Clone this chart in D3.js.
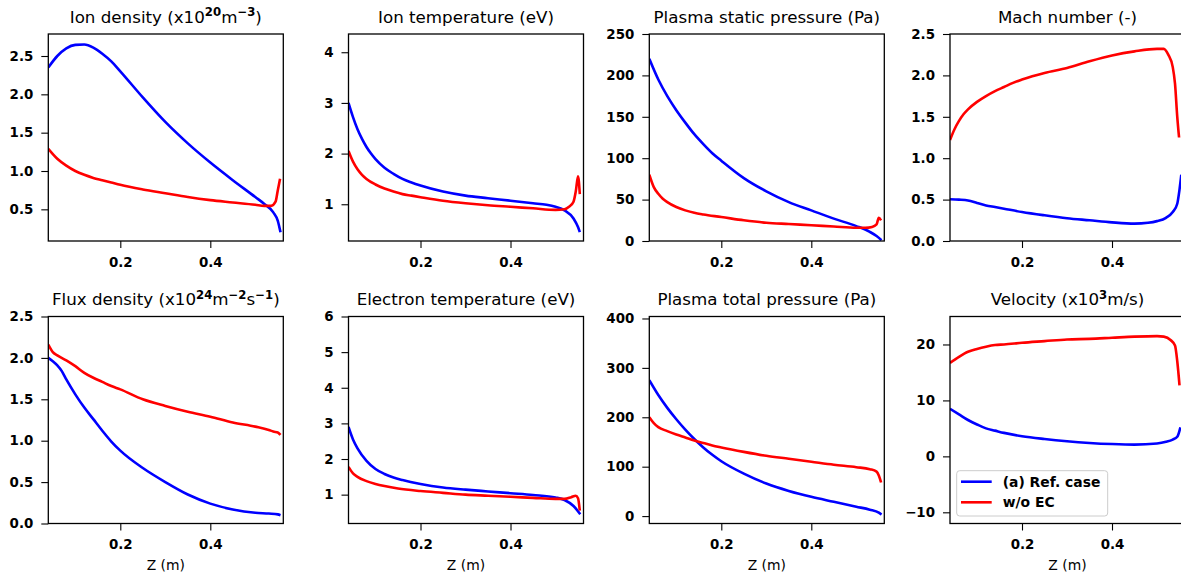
<!DOCTYPE html>
<html>
<head>
<meta charset="utf-8">
<script src="https://cdn.jsdelivr.net/npm/d3@7"></script>
<style>
  body { margin: 0; background: #fff; }
  svg text { font-family: "DejaVu Sans", sans-serif; fill: #000; }
</style>
</head>
<body>
<svg id="chart" width="1181" height="575"></svg>
<script>
// series: [z (m), value]
var ionDensityRef = [[0.04,2.35],[0.06,2.50],[0.08,2.60],[0.10,2.645],[0.12,2.65],[0.14,2.61],[0.16,2.53],[0.18,2.43],[0.20,2.30],[0.25,1.96],[0.30,1.64],[0.35,1.36],[0.40,1.11],[0.45,0.88],[0.50,0.66],[0.52,0.57],[0.54,0.46],[0.55,0.35],[0.556,0.20]];
var ionDensityNoEc = [[0.04,1.29],[0.06,1.16],[0.08,1.07],[0.10,1.00],[0.12,0.95],[0.14,0.91],[0.16,0.88],[0.18,0.85],[0.20,0.82],[0.25,0.76],[0.30,0.71],[0.35,0.66],[0.40,0.62],[0.45,0.59],[0.50,0.56],[0.52,0.545],[0.535,0.545],[0.545,0.60],[0.55,0.75],[0.555,0.90]];

var ionTempRef = [[0.04,3.0],[0.05,2.72],[0.06,2.48],[0.07,2.29],[0.08,2.13],[0.09,2.0],[0.10,1.89],[0.12,1.72],[0.14,1.60],[0.16,1.50],[0.18,1.43],[0.20,1.37],[0.25,1.25],[0.30,1.17],[0.35,1.12],[0.40,1.07],[0.45,1.02],[0.48,0.99],[0.50,0.95],[0.52,0.88],[0.54,0.72],[0.55,0.55],[0.554,0.45]];
var ionTempNoEc = [[0.04,2.05],[0.05,1.84],[0.06,1.69],[0.07,1.58],[0.08,1.50],[0.10,1.39],[0.12,1.31],[0.14,1.25],[0.16,1.20],[0.18,1.17],[0.20,1.14],[0.25,1.07],[0.30,1.02],[0.35,0.98],[0.40,0.95],[0.45,0.92],[0.50,0.89],[0.52,0.90],[0.53,0.95],[0.54,1.05],[0.545,1.25],[0.55,1.55],[0.554,1.2]];

var staticPressRef = [[0.04,220],[0.06,195],[0.08,175],[0.10,158],[0.12,143],[0.14,129],[0.16,117],[0.18,106],[0.20,97],[0.25,76],[0.30,60],[0.35,47],[0.40,37],[0.45,27],[0.50,18],[0.53,11],[0.545,6],[0.556,1]];
var staticPressNoEc = [[0.04,80],[0.05,65],[0.06,57],[0.07,51],[0.08,47],[0.10,41],[0.12,37],[0.14,34],[0.16,32],[0.20,29],[0.25,25],[0.30,22],[0.35,20.5],[0.40,19],[0.45,17.5],[0.50,16],[0.52,16],[0.535,17],[0.545,20],[0.55,28],[0.555,25]];

var machRef = [[0.04,0.505],[0.06,0.50],[0.08,0.49],[0.10,0.46],[0.12,0.43],[0.14,0.41],[0.16,0.39],[0.20,0.35],[0.25,0.31],[0.30,0.275],[0.35,0.25],[0.40,0.225],[0.45,0.21],[0.48,0.22],[0.50,0.24],[0.52,0.28],[0.535,0.35],[0.545,0.45],[0.55,0.62],[0.554,0.80]];
var machNoEc = [[0.04,1.22],[0.05,1.35],[0.06,1.45],[0.07,1.53],[0.08,1.59],[0.10,1.68],[0.12,1.75],[0.14,1.81],[0.16,1.86],[0.18,1.91],[0.20,1.95],[0.25,2.03],[0.30,2.09],[0.35,2.17],[0.40,2.24],[0.45,2.29],[0.50,2.32],[0.515,2.32],[0.525,2.25],[0.535,2.10],[0.54,1.90],[0.545,1.50],[0.549,1.25]];

var fluxRef = [[0.04,2.0],[0.05,1.96],[0.06,1.91],[0.07,1.84],[0.08,1.74],[0.10,1.56],[0.12,1.40],[0.14,1.26],[0.16,1.12],[0.18,0.99],[0.20,0.88],[0.25,0.67],[0.30,0.50],[0.35,0.35],[0.40,0.24],[0.45,0.17],[0.50,0.13],[0.53,0.12],[0.55,0.11],[0.556,0.10]];
var fluxNoEc = [[0.04,2.16],[0.05,2.07],[0.06,2.03],[0.08,1.97],[0.10,1.90],[0.12,1.82],[0.14,1.76],[0.16,1.71],[0.18,1.66],[0.20,1.62],[0.25,1.50],[0.30,1.42],[0.35,1.35],[0.40,1.29],[0.45,1.22],[0.50,1.17],[0.53,1.13],[0.54,1.11],[0.55,1.10],[0.556,1.07]];

var elecTempRef = [[0.04,2.9],[0.05,2.55],[0.06,2.3],[0.08,1.95],[0.10,1.72],[0.12,1.58],[0.14,1.48],[0.16,1.41],[0.20,1.30],[0.25,1.20],[0.30,1.14],[0.35,1.09],[0.40,1.04],[0.45,0.99],[0.50,0.92],[0.52,0.85],[0.54,0.68],[0.555,0.45]];
var elecTempNoEc = [[0.04,1.78],[0.05,1.60],[0.06,1.50],[0.08,1.38],[0.10,1.30],[0.12,1.24],[0.15,1.17],[0.20,1.10],[0.25,1.05],[0.30,1.00],[0.35,0.97],[0.40,0.94],[0.45,0.91],[0.50,0.88],[0.52,0.88],[0.535,0.93],[0.545,0.97],[0.55,0.90],[0.554,0.55]];

var totalPressRef = [[0.04,275],[0.06,245],[0.08,219],[0.10,196],[0.12,175],[0.14,156],[0.16,139],[0.18,124],[0.20,111],[0.25,86],[0.30,66],[0.35,51],[0.40,39],[0.45,29],[0.50,19],[0.53,13],[0.55,7],[0.556,3]];
var totalPressNoEc = [[0.04,200],[0.05,188],[0.06,180],[0.08,172],[0.10,165],[0.12,159],[0.14,153],[0.16,148],[0.18,143],[0.20,139],[0.25,130],[0.30,122],[0.35,116],[0.40,110],[0.45,104],[0.50,99],[0.53,95],[0.545,90],[0.55,82],[0.555,68]];

var velocityRef = [[0.04,8.5],[0.06,7.5],[0.08,6.5],[0.10,5.7],[0.12,5.0],[0.14,4.6],[0.16,4.2],[0.20,3.6],[0.25,3.1],[0.30,2.7],[0.35,2.4],[0.40,2.2],[0.45,2.1],[0.50,2.3],[0.52,2.6],[0.535,3.0],[0.545,3.5],[0.552,5.2]];
var velocityNoEc = [[0.04,16.7],[0.06,17.8],[0.08,18.7],[0.10,19.2],[0.12,19.6],[0.14,19.9],[0.16,20.0],[0.20,20.3],[0.25,20.6],[0.30,20.9],[0.35,21.0],[0.40,21.2],[0.45,21.4],[0.50,21.5],[0.515,21.4],[0.53,20.8],[0.54,19.8],[0.545,17.0],[0.55,12.7]];

var zTicks = [0.2, 0.4];
var seriesLabels = ["(a) Ref. case", "w/o EC"];
var seriesColors = ["#0000ff", "#ff0000"];

// title pieces: plain text or superscript
var panels = [
  {title: [["Ion density (x10"], ["20", 1], ["m"], ["\u22123", 1], [")"]], data: [ionDensityRef, ionDensityNoEc], y: [0.087, 2.787], ticks: [0.5, 1.0, 1.5, 2.0, 2.5], fmt: ".1f"},
  {title: [["Ion temperature (eV)"]], data: [ionTempRef, ionTempNoEc], y: [0.275, 4.36], ticks: [1, 2, 3, 4], fmt: "d"},
  {title: [["Plasma static pressure (Pa)"]], data: [staticPressRef, staticPressNoEc], y: [0, 250], ticks: [0, 50, 100, 150, 200, 250], fmt: "d"},
  {title: [["Mach number (-)"]], data: [machRef, machNoEc], y: [0, 2.5], ticks: [0, 0.5, 1.0, 1.5, 2.0, 2.5], fmt: ".1f"},
  {title: [["Flux density (x10"], ["24", 1], ["m"], ["\u22122", 1], ["s"], ["\u22121", 1], [")"]], data: [fluxRef, fluxNoEc], y: [0, 2.5], ticks: [0, 0.5, 1.0, 1.5, 2.0, 2.5], fmt: ".1f"},
  {title: [["Electron temperature (eV)"]], data: [elecTempRef, elecTempNoEc], y: [0.19, 6], ticks: [1, 2, 3, 4, 5, 6], fmt: "d"},
  {title: [["Plasma total pressure (Pa)"]], data: [totalPressRef, totalPressNoEc], y: [-15, 404], ticks: [0, 100, 200, 300, 400], fmt: "d"},
  {title: [["Velocity (x10"], ["3", 1], ["m/s)"]], data: [velocityRef, velocityNoEc], y: [-12, 25], ticks: [-10, 0, 10, 20], fmt: "d", legend: true}
];

var colLeft = [48.3, 348.5, 649.3, 950];
var rowTop = [34, 316.5];
var W = 235, H = 207;

var svg = d3.select("#chart");

panels.forEach(function(p, i) {
  var left = colLeft[i % 4], top = rowTop[Math.floor(i / 4)];
  var g = svg.append("g").attr("transform", "translate(" + left + "," + top + ")");

  var x = d3.scaleLinear().domain([0.04, 0.5622]).range([0, W]);
  var y = d3.scaleLinear().domain(p.y).range([H, 0]);

  var clipId = "clip" + i;
  g.append("clipPath").attr("id", clipId)
    .append("rect").attr("width", W).attr("height", H);

  var line = d3.line()
    .x(function(d) { return x(d[0]); })
    .y(function(d) { return y(d[1]); })
    .curve(d3.curveMonotoneX);

  p.data.forEach(function(s, k) {
    g.append("path")
      .datum(s)
      .attr("clip-path", "url(#" + clipId + ")")
      .attr("fill", "none")
      .attr("stroke", seriesColors[k])
      .attr("stroke-width", 2.6)
      .attr("stroke-linejoin", "round")
      .attr("d", line);
  });

  var yAxis = d3.axisLeft(y).tickValues(p.ticks).tickSize(7).tickPadding(8)
    .tickFormat(function(v) { return d3.format(p.fmt)(v).replace("-", "\u2212"); });
  var xAxis = d3.axisBottom(x).tickValues(zTicks).tickSize(7).tickPadding(9)
    .tickFormat(d3.format(".1f"));

  var ya = g.append("g").call(yAxis);
  var xa = g.append("g").attr("transform", "translate(0," + H + ")").call(xAxis);
  [ya, xa].forEach(function(a) {
    a.select(".domain").remove();
    a.selectAll("line").attr("stroke", "#000").attr("stroke-width", 1.1);
    a.selectAll("text").attr("font-family", "DejaVu Sans").attr("font-weight", "bold")
      .attr("font-size", "13.4px").attr("fill", "#000");
  });

  // frame
  g.append("rect").attr("width", W).attr("height", H)
    .attr("fill", "none").attr("stroke", "#000").attr("stroke-width", 1.3);

  // title, superscripts raised in px so the baseline comes back exactly
  var t = g.append("text").attr("x", W / 2).attr("y", -11.5)
    .attr("text-anchor", "middle").attr("font-size", "16.7px");
  var raised = false;
  p.title.forEach(function(seg) {
    if (seg[1]) {
      t.append("tspan").attr("dy", raised ? 0 : -6.5).attr("font-size", "11.7px")
        .attr("font-weight", "bold").text(seg[0]);
      raised = true;
    } else {
      t.append("tspan").attr("dy", raised ? 6.5 : 0).text(seg[0]);
      raised = false;
    }
  });

  if (i >= 4) {
    g.append("text").attr("x", W / 2).attr("y", H + 46)
      .attr("text-anchor", "middle").attr("font-size", "13.9px").text("Z (m)");
  }

  if (p.legend) {
    var lg = g.append("g").attr("transform", "translate(6.7," + (470.7 - top) + ")");
    lg.append("rect").attr("width", 151).attr("height", 45.3).attr("rx", 3)
      .attr("fill", "#fff").attr("fill-opacity", 0.8)
      .attr("stroke", "#cccccc").attr("stroke-width", 1);
    seriesLabels.forEach(function(lab, k) {
      var yy = 11 + k * 20.6;
      lg.append("line").attr("x1", 4.3).attr("x2", 35).attr("y1", yy).attr("y2", yy)
        .attr("stroke", seriesColors[k]).attr("stroke-width", 2.6);
      lg.append("text").attr("x", 46).attr("y", yy).attr("dy", "0.36em")
        .attr("font-size", "13.9px").attr("font-weight", "bold").text(lab);
    });
  }
});
</script>
</body>
</html>
